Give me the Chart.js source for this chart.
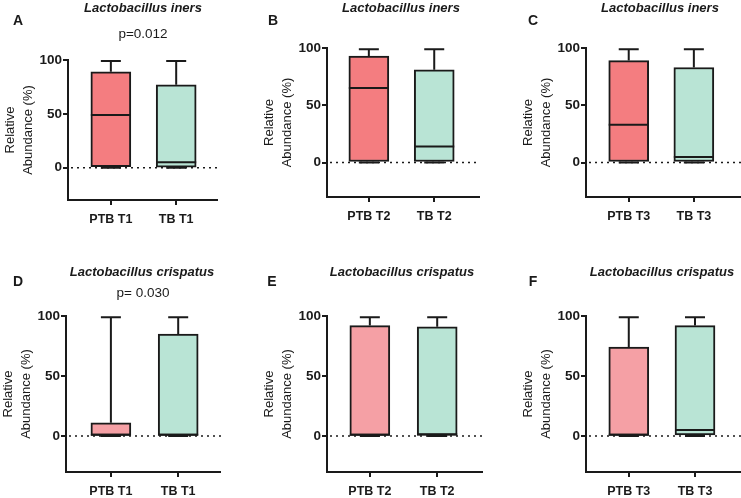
<!DOCTYPE html>
<html>
<head>
<meta charset="utf-8">
<script src="https://cdn.jsdelivr.net/npm/chart.js@4.4.0/dist/chart.umd.min.js"></script>
<style>
  html, body { margin: 0; padding: 0; background: #fff; }
  body { width: 741px; height: 498px; position: relative; overflow: hidden; font-family: "Liberation Sans", Arial, sans-serif; }
  canvas { position: absolute; }
  .lbl { position: absolute; transform: translate(-50%, -50%); white-space: nowrap; color: #1a1a1a; }
  .letter { font-weight: bold; font-size: 14px; }
  .title { font-weight: bold; font-style: italic; font-size: 13px; }
  .pval { font-size: 13.5px; }
</style>
</head>
<body>
<script>
// # Values
const panelLetters = ["A", "B", "C", "D", "E", "F"];
const panelTitles = [
  "Lactobacillus iners", "Lactobacillus iners", "Lactobacillus iners",
  "Lactobacillus crispatus", "Lactobacillus crispatus", "Lactobacillus crispatus"
];
const pValues = ["p=0.012", "", "", "p= 0.030", "", ""];
const groupLabels = [
  ["PTB T1", "TB T1"], ["PTB T2", "TB T2"], ["PTB T3", "TB T3"],
  ["PTB T1", "TB T1"], ["PTB T2", "TB T2"], ["PTB T3", "TB T3"]
];
const yTicks = [0, 50, 100];
const yTitle = ["Relative", "Abundance (%)"];

// # Box stats: [min, q1, median, q3, max]
const ptbStats = [
  [0, 1, 49, 89, 99],
  [0, 1, 65, 93, 99],
  [0, 1, 33, 89, 99],
  [0, 0.5, 1, 11, 99],
  [0, 0.5, 1, 92, 99],
  [0, 0.5, 1, 74, 99]
];
const tbStats = [
  [0, 0.5, 5, 77, 99],
  [0, 1, 14, 81, 99],
  [0, 1, 5, 83, 99],
  [0, 0.5, 1, 85, 99],
  [0, 0.5, 1.5, 91, 99],
  [0, 1, 5, 92, 99]
];

// # Panel placement on the page
const layout = [
  { top: 0,   axisX: 68,  y100: 60,  yBot: 200, xEnd: 215, xMin: -0.656, xMax: 1.64, letter: [18, 20],  title: [143, 7],   p: [143, 33],  ptbColor: "#f47d80" },
  { top: 0,   axisX: 327, y100: 48,  yBot: 197, xEnd: 477, xMin: -0.64,  xMax: 1.70, letter: [273, 20], title: [401, 7],   p: null,       ptbColor: "#f47d80" },
  { top: 0,   axisX: 586, y100: 48,  yBot: 197, xEnd: 741, xMin: -0.656, xMax: 1.77, letter: [533, 20], title: [660, 7],   p: null,       ptbColor: "#f47d80" },
  { top: 240, axisX: 66,  y100: 316, yBot: 472, xEnd: 218, xMin: -0.667, xMax: 1.636, letter: [18, 281], title: [142, 271], p: [143, 292], ptbColor: "#f5a0a5" },
  { top: 240, axisX: 327, y100: 316, yBot: 472, xEnd: 480, xMin: -0.636, xMax: 1.68, letter: [272, 281], title: [402, 271], p: null,       ptbColor: "#f5a0a5" },
  { top: 240, axisX: 586, y100: 316, yBot: 472, xEnd: 741, xMin: -0.646, xMax: 1.74, letter: [533, 281], title: [662, 271], p: null,       ptbColor: "#f5a0a5" }
];

const ink = "#1a1a1a";
const tbColor = "#b9e4d5";
const family = "'Liberation Sans', Arial, sans-serif";

// # Whiskers, medians and the dotted zero line
const boxPlot = {
  id: "boxPlot",
  beforeDatasetsDraw(chart) {
    const { ctx, chartArea, scales: { y } } = chart;
    const y0 = y.getPixelForValue(0);
    ctx.save();
    ctx.setLineDash([2, 4]);
    ctx.lineWidth = 1.5;
    ctx.strokeStyle = ink;
    ctx.beginPath();
    ctx.moveTo(chartArea.left + 3, y0);
    ctx.lineTo(chartArea.right, y0);
    ctx.stroke();
    ctx.restore();
  },
  afterDatasetsDraw(chart) {
    const { ctx, scales: { y } } = chart;
    const stats = chart.data.datasets[0].stats;
    ctx.save();
    ctx.strokeStyle = ink;
    ctx.lineWidth = 2;
    chart.getDatasetMeta(0).data.forEach((bar, i) => {
      const [mn, q1, med, q3, mx] = stats[i].map(v => y.getPixelForValue(v));
      const half = bar.width / 2;
      const cap = bar.width / 4;
      ctx.beginPath();
      ctx.moveTo(bar.x - half, med); ctx.lineTo(bar.x + half, med);
      ctx.moveTo(bar.x, q3); ctx.lineTo(bar.x, mx);
      ctx.moveTo(bar.x - cap, mx); ctx.lineTo(bar.x + cap, mx);
      ctx.moveTo(bar.x, q1); ctx.lineTo(bar.x, mn);
      ctx.moveTo(bar.x - cap, mn); ctx.lineTo(bar.x + cap, mn);
      ctx.stroke();
    });
    ctx.restore();
  }
};

const addText = (cls, text, pos) => {
  const d = document.createElement("div");
  d.className = "lbl " + cls;
  d.textContent = text;
  d.style.left = pos[0] + "px";
  d.style.top = pos[1] + "px";
  document.body.appendChild(d);
};

layout.forEach((L, k) => {
  const left = L.axisX - 68;
  const w = L.xEnd + 3 - left;
  const h = L.yBot + 30 - L.top;
  const cv = document.createElement("canvas");
  cv.width = w; cv.height = h;
  cv.style.left = left + "px"; cv.style.top = L.top + "px";
  cv.style.width = w + "px"; cv.style.height = h + "px";
  document.body.appendChild(cv);

  const ptb = ptbStats[k];
  const tb = tbStats[k];

  new Chart(cv, {
    type: "bar",
    data: {
      datasets: [{
        data: [{ x: 0, y: [ptb[1], ptb[3]] }, { x: 1, y: [tb[1], tb[3]] }],
        stats: [ptb, tb],
        backgroundColor: [L.ptbColor, tbColor],
        borderColor: ink,
        borderWidth: 2,
        borderSkipped: false,
        barThickness: 40
      }]
    },
    options: {
      responsive: false,
      animation: false,
      devicePixelRatio: 1,
      layout: { padding: { top: L.y100 - L.top, left: 0, right: 0, bottom: 0 } },
      plugins: { legend: { display: false }, tooltip: { enabled: false } },
      scales: {
        x: {
          type: "linear",
          offset: false,
          min: L.xMin,
          max: L.xMax,
          afterBuildTicks: s => { s.ticks = [0, 1].map(v => ({ value: v })); },
          afterFit: s => { s.height = 30; },
          ticks: {
            callback: v => groupLabels[k][v],
            autoSkip: false, maxRotation: 0, padding: 7,
            color: ink, font: { family, size: 12.5, weight: "bold" }
          },
          grid: { offset: false, drawOnChartArea: false, drawTicks: true, tickLength: 5, color: ink, lineWidth: 2 },
          border: { color: ink, width: 2 }
        },
        y: {
          min: -30,
          max: 100,
          afterBuildTicks: s => { s.ticks = yTicks.map(v => ({ value: v })); },
          afterFit: s => { s.width = 68; },
          ticks: { padding: 1, color: ink, font: { family, size: 13.5, weight: "bold" } },
          grid: { drawOnChartArea: false, drawTicks: true, tickLength: 5, color: ink, lineWidth: 2 },
          border: { color: ink, width: 2 },
          title: {
            display: true, text: yTitle, color: ink,
            font: { family, size: 13, lineHeight: 1.35 },
            padding: { top: 2, bottom: 0 }
          }
        }
      }
    },
    plugins: [boxPlot]
  });

  addText("letter", panelLetters[k], L.letter);
  addText("title", panelTitles[k], L.title);
  if (L.p && pValues[k]) addText("pval", pValues[k], L.p);
});
</script>
</body>
</html>
